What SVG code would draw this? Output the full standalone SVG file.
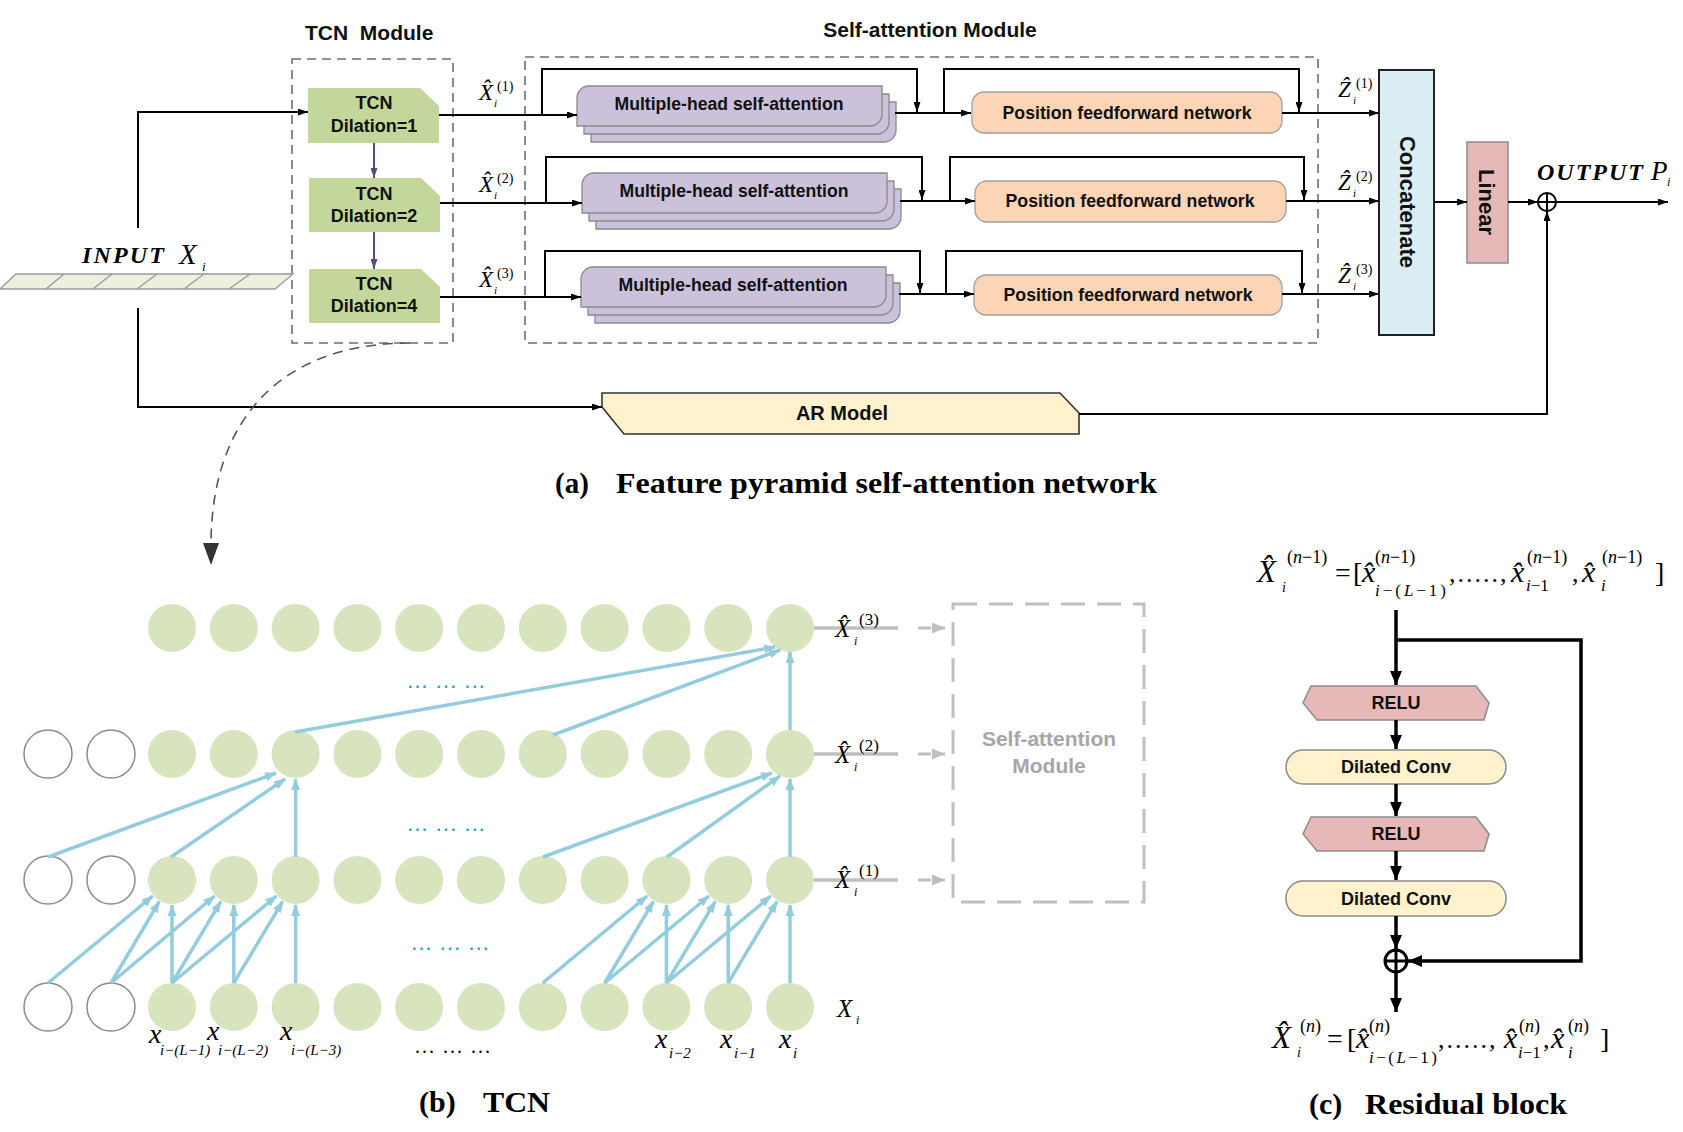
<svg xmlns="http://www.w3.org/2000/svg" width="1683" height="1132" viewBox="0 0 1683 1132">
<defs>
<style>
.sans{font-family:"Liberation Sans",Arial,sans-serif}
.ser{font-family:"Liberation Serif","Times New Roman",serif}
.b{font-weight:bold}
.it{font-style:italic}
.up{font-style:normal}
.ln{stroke:#000;stroke-width:2;fill:none;marker-end:url(#ak)}
.dash{stroke:#6e6e6e;stroke-width:1.6;fill:none;stroke-dasharray:9 6}
.tcn{fill:#c3d69b}
.mh{fill:#ccc1da;stroke:#8a8a8a;stroke-width:1.3}
.pf{fill:#fbd5b5;stroke:#a0a0a0;stroke-width:1.3}
.bl{stroke:#93cddd;stroke-width:3.5;fill:none;marker-end:url(#ab)}
.g{fill:#d7e4bd}
.e{fill:#fff;stroke:#8c8c8c;stroke-width:1.5}
.lbl{font-size:18px;fill:#111;text-anchor:middle}
.gl{stroke:#bfbfbf;stroke-width:3.5;fill:none}
.ga{stroke:#bfbfbf;stroke-width:3;fill:none;stroke-dasharray:13 6;marker-end:url(#ag)}
.rl{stroke:#000;stroke-width:3.5;fill:none;marker-end:url(#ar)}
.relu{fill:#e6b9b8;stroke:#8c8c8c;stroke-width:1.5}
.dc{fill:#fff2cc;stroke:#8c8c8c;stroke-width:1.5}
</style>
<marker id="ak" viewBox="0 0 10 7" refX="10" refY="3.5" markerWidth="10" markerHeight="7" markerUnits="userSpaceOnUse" orient="auto"><path d="M0,0 L10,3.5 L0,7 z" fill="#000"/></marker>
<marker id="ap" viewBox="0 0 10 7" refX="10" refY="3.5" markerWidth="10" markerHeight="7" markerUnits="userSpaceOnUse" orient="auto"><path d="M0,0 L10,3.5 L0,7 z" fill="#5f497a"/></marker>
<marker id="ab" viewBox="0 0 12 9" refX="11" refY="4.5" markerWidth="12" markerHeight="9" markerUnits="userSpaceOnUse" orient="auto"><path d="M0,0 L12,4.5 L0,9 z" fill="#93cddd"/></marker>
<marker id="ag" viewBox="0 0 13 11" refX="13" refY="5.5" markerWidth="13" markerHeight="11" markerUnits="userSpaceOnUse" orient="auto"><path d="M0,0 L13,5.5 L0,11 z" fill="#bfbfbf"/></marker>
<marker id="ar" viewBox="0 0 14 12" refX="14" refY="6" markerWidth="14" markerHeight="12" markerUnits="userSpaceOnUse" orient="auto"><path d="M0,0 L14,6 L0,12 z" fill="#000"/></marker>
<path id="mhs" d="M12,0 H305 V28 A12,12 0 0 1 293,40 H0 V12 A12,12 0 0 1 12,0 Z"/>
</defs>
<rect width="1683" height="1132" fill="#fff"/>

<!-- ===== (a) ===== -->
<text class="sans b" x="305" y="40" font-size="21" fill="#111">TCN&#160; Module</text>
<text class="sans b" x="930" y="37" font-size="21" fill="#111" text-anchor="middle">Self-attention Module</text>
<rect class="dash" x="292" y="59" width="161" height="284"/>
<rect class="dash" x="525" y="57" width="793" height="286"/>

<g id="input">
<polygon points="16,274 293,274 275,289 0,289" fill="#ebf1de" stroke="#9a9a9a" stroke-width="1.3"/>
<path d="M64,274 L46,289 M112,274 L93,289 M157,274 L137,289 M204,274 L184,289 M250,274 L229,289" stroke="#9a9a9a" stroke-width="1.3" fill="none"/>
<text class="ser b it" x="82" y="263" font-size="24" textLength="82">INPUT</text>
<text class="ser it" x="179" y="264" font-size="29">X<tspan x="202" y="271" font-size="13">i</tspan></text>
</g>

<g id="tcn1"><path class="tcn" d="M308,88 H420 L439,106 V143 H308 Z"/><text class="sans b lbl" x="374" y="109">TCN</text><text class="sans b lbl" x="374" y="132">Dilation=1</text></g>
<g id="tcn2"><path class="tcn" d="M309,178 H421 L440,196 V232 H309 Z"/><text class="sans b lbl" x="374" y="200">TCN</text><text class="sans b lbl" x="374" y="222">Dilation=2</text></g>
<g id="tcn4"><path class="tcn" d="M309,269 H421 L440,287 V323 H309 Z"/><text class="sans b lbl" x="374" y="290">TCN</text><text class="sans b lbl" x="374" y="312">Dilation=4</text></g>

<g id="mhsa1" transform="translate(577,86)"><use href="#mhs" x="14" y="16" class="mh"/><use href="#mhs" x="7" y="8" class="mh"/><use href="#mhs" class="mh"/><text class="sans b lbl" x="152" y="24" textLength="229" lengthAdjust="spacingAndGlyphs">Multiple-head self-attention</text></g>
<g id="mhsa2" transform="translate(582,173)"><use href="#mhs" x="14" y="16" class="mh"/><use href="#mhs" x="7" y="8" class="mh"/><use href="#mhs" class="mh"/><text class="sans b lbl" x="152" y="24" textLength="229" lengthAdjust="spacingAndGlyphs">Multiple-head self-attention</text></g>
<g id="mhsa3" transform="translate(581,267)"><use href="#mhs" x="14" y="16" class="mh"/><use href="#mhs" x="7" y="8" class="mh"/><use href="#mhs" class="mh"/><text class="sans b lbl" x="152" y="24" textLength="229" lengthAdjust="spacingAndGlyphs">Multiple-head self-attention</text></g>

<g id="pfn1"><rect class="pf" x="972" y="92" width="310" height="41" rx="12"/><text class="sans b lbl" x="1127" y="119" textLength="249" lengthAdjust="spacingAndGlyphs">Position feedforward network</text></g>
<g id="pfn2"><rect class="pf" x="975" y="181" width="311" height="41" rx="12"/><text class="sans b lbl" x="1130" y="207" textLength="249" lengthAdjust="spacingAndGlyphs">Position feedforward network</text></g>
<g id="pfn3"><rect class="pf" x="974" y="275" width="308" height="40" rx="12"/><text class="sans b lbl" x="1128" y="301" textLength="249" lengthAdjust="spacingAndGlyphs">Position feedforward network</text></g>

<g id="concat"><rect x="1379" y="70" width="55" height="265" fill="#daeef3" stroke="#222" stroke-width="2"/><text class="sans b" x="1408" y="202" dy="8" font-size="22" text-anchor="middle" fill="#111" transform="rotate(90 1408 202)">Concatenate</text></g>
<g id="linear"><rect x="1467" y="142" width="41" height="121" fill="#e6b9b8" stroke="#8c8c8c" stroke-width="1.5"/><text class="sans b" x="1487" y="202" dy="8" font-size="22" text-anchor="middle" fill="#111" transform="rotate(90 1487 202)">Linear</text></g>
<g id="ar"><path d="M602,393 H1060 L1079,413 V434 H624 L602,407 Z" fill="#fff2cc" stroke="#333" stroke-width="1.6"/><text class="sans b" x="842" y="420" font-size="20" text-anchor="middle" fill="#111">AR Model</text></g>
<g id="plus1"><circle cx="1547" cy="202" r="9" fill="#fff" stroke="#000" stroke-width="2"/><path d="M1538,202 H1556 M1547,193 V211" stroke="#000" stroke-width="2"/></g>

<g id="output"><text class="ser b it" x="1537" y="180" font-size="24" textLength="106">OUTPUT</text><text class="ser it" x="1651" y="180" font-size="27">P<tspan x="1667" y="186" font-size="12">i</tspan></text></g>

<!-- X-hat / Z-hat labels (a) -->
<g class="ser">
<text x="479" y="100" font-size="23"><tspan class="it">X̂</tspan><tspan x="497" y="91" font-size="14">(1)</tspan><tspan class="it" x="494" y="107" font-size="11">i</tspan></text>
<text x="479" y="192" font-size="23"><tspan class="it">X̂</tspan><tspan x="497" y="183" font-size="14">(2)</tspan><tspan class="it" x="494" y="199" font-size="11">i</tspan></text>
<text x="479" y="287" font-size="23"><tspan class="it">X̂</tspan><tspan x="497" y="278" font-size="14">(3)</tspan><tspan class="it" x="494" y="294" font-size="11">i</tspan></text>
<text x="1338" y="97" font-size="23"><tspan class="it">Ẑ</tspan><tspan x="1356" y="88" font-size="14">(1)</tspan><tspan class="it" x="1353" y="104" font-size="11">i</tspan></text>
<text x="1338" y="190" font-size="23"><tspan class="it">Ẑ</tspan><tspan x="1356" y="181" font-size="14">(2)</tspan><tspan class="it" x="1353" y="197" font-size="11">i</tspan></text>
<text x="1338" y="283" font-size="23"><tspan class="it">Ẑ</tspan><tspan x="1356" y="274" font-size="14">(3)</tspan><tspan class="it" x="1353" y="290" font-size="11">i</tspan></text>
</g>

<g id="connectors-a">
<path class="ln" d="M138,228 V112 H308"/>
<path class="ln" d="M138,308 V407 H602"/>
<path d="M374,143 V178" stroke="#5f497a" stroke-width="2" fill="none" marker-end="url(#ap)"/>
<path d="M374,232 V269" stroke="#5f497a" stroke-width="2" fill="none" marker-end="url(#ap)"/>
<path class="ln" d="M439,115 H577"/>
<path class="ln" d="M542,115 V69 H917 V112"/>
<path class="ln" d="M895,113 H971"/>
<path class="ln" d="M944,113 V69 H1299 V112"/>
<path class="ln" d="M1282,113 H1379"/>
<path class="ln" d="M440,203 H582"/>
<path class="ln" d="M546,203 V157 H922 V200"/>
<path class="ln" d="M900,201 H975"/>
<path class="ln" d="M950,201 V157 H1304 V200"/>
<path class="ln" d="M1286,201 H1379"/>
<path class="ln" d="M440,297 H581"/>
<path class="ln" d="M545,297 V251 H920 V293"/>
<path class="ln" d="M899,294 H974"/>
<path class="ln" d="M946,294 V251 H1302 V293"/>
<path class="ln" d="M1282,294 H1379"/>
<path class="ln" d="M1434,202 H1467"/>
<path class="ln" d="M1508,202 H1538"/>
<path class="ln" d="M1556,202 H1668"/>
<path class="ln" d="M1079,414 H1547 V211"/>
<path d="M410,343 C290,343 212,410 211,543" stroke="#555" stroke-width="1.6" fill="none" stroke-dasharray="10 7"/>
<path d="M203,543 L219,543 L211,565 Z" fill="#333"/>
</g>

<text class="ser b" x="555" y="493" font-size="29">(a)</text>
<text class="ser b" x="616" y="493" font-size="29" textLength="541" lengthAdjust="spacingAndGlyphs">Feature pyramid self-attention network</text>

<!-- ===== (b) TCN ===== -->
<g id="tcn-nodes">
<g id="row4"><circle class="g" cx="172" cy="628" r="24"/><circle class="g" cx="233.8" cy="628" r="24"/><circle class="g" cx="295.6" cy="628" r="24"/><circle class="g" cx="357.4" cy="628" r="24"/><circle class="g" cx="419.2" cy="628" r="24"/><circle class="g" cx="481" cy="628" r="24"/><circle class="g" cx="542.8" cy="628" r="24"/><circle class="g" cx="604.6" cy="628" r="24"/><circle class="g" cx="666.4" cy="628" r="24"/><circle class="g" cx="728.2" cy="628" r="24"/><circle class="g" cx="790" cy="628" r="24"/></g>
<g id="row3"><circle class="e" cx="48" cy="754" r="24"/><circle class="e" cx="111" cy="754" r="24"/><circle class="g" cx="172" cy="754" r="24"/><circle class="g" cx="233.8" cy="754" r="24"/><circle class="g" cx="295.6" cy="754" r="24"/><circle class="g" cx="357.4" cy="754" r="24"/><circle class="g" cx="419.2" cy="754" r="24"/><circle class="g" cx="481" cy="754" r="24"/><circle class="g" cx="542.8" cy="754" r="24"/><circle class="g" cx="604.6" cy="754" r="24"/><circle class="g" cx="666.4" cy="754" r="24"/><circle class="g" cx="728.2" cy="754" r="24"/><circle class="g" cx="790" cy="754" r="24"/></g>
<g id="row2"><circle class="e" cx="48" cy="880" r="24"/><circle class="e" cx="111" cy="880" r="24"/><circle class="g" cx="172" cy="880" r="24"/><circle class="g" cx="233.8" cy="880" r="24"/><circle class="g" cx="295.6" cy="880" r="24"/><circle class="g" cx="357.4" cy="880" r="24"/><circle class="g" cx="419.2" cy="880" r="24"/><circle class="g" cx="481" cy="880" r="24"/><circle class="g" cx="542.8" cy="880" r="24"/><circle class="g" cx="604.6" cy="880" r="24"/><circle class="g" cx="666.4" cy="880" r="24"/><circle class="g" cx="728.2" cy="880" r="24"/><circle class="g" cx="790" cy="880" r="24"/></g>
<g id="row1"><circle class="e" cx="48" cy="1007" r="24"/><circle class="e" cx="111" cy="1007" r="24"/><circle class="g" cx="172" cy="1007" r="24"/><circle class="g" cx="233.8" cy="1007" r="24"/><circle class="g" cx="295.6" cy="1007" r="24"/><circle class="g" cx="357.4" cy="1007" r="24"/><circle class="g" cx="419.2" cy="1007" r="24"/><circle class="g" cx="481" cy="1007" r="24"/><circle class="g" cx="542.8" cy="1007" r="24"/><circle class="g" cx="604.6" cy="1007" r="24"/><circle class="g" cx="666.4" cy="1007" r="24"/><circle class="g" cx="728.2" cy="1007" r="24"/><circle class="g" cx="790" cy="1007" r="24"/></g>
</g>

<g id="connectors-b">
<line class="bl" x1="48" y1="983" x2="152.8" y2="896"/>
<line class="bl" x1="111" y1="983" x2="159.3" y2="901.5"/>
<line class="bl" x1="172" y1="983" x2="172" y2="905"/>
<line class="bl" x1="111" y1="983" x2="214.6" y2="896"/>
<line class="bl" x1="172" y1="983" x2="220.9" y2="901.4"/>
<line class="bl" x1="233.8" y1="983" x2="233.8" y2="905"/>
<line class="bl" x1="172" y1="983" x2="276.4" y2="896"/>
<line class="bl" x1="233.8" y1="983" x2="282.7" y2="901.4"/>
<line class="bl" x1="295.6" y1="983" x2="295.6" y2="905"/>
<line class="bl" x1="542.8" y1="983" x2="647.2" y2="896"/>
<line class="bl" x1="604.6" y1="983" x2="653.5" y2="901.4"/>
<line class="bl" x1="666.4" y1="983" x2="666.4" y2="905"/>
<line class="bl" x1="604.6" y1="983" x2="709" y2="896"/>
<line class="bl" x1="666.4" y1="983" x2="715.3" y2="901.4"/>
<line class="bl" x1="728.2" y1="983" x2="728.2" y2="905"/>
<line class="bl" x1="666.4" y1="983" x2="770.8" y2="896"/>
<line class="bl" x1="728.2" y1="983" x2="777.1" y2="901.4"/>
<line class="bl" x1="790" y1="983" x2="790" y2="905"/>
<line class="bl" x1="48" y1="857" x2="276" y2="773"/>
<line class="bl" x1="171" y1="857" x2="285" y2="779"/>
<line class="bl" x1="295.6" y1="857" x2="295.6" y2="779"/>
<line class="bl" x1="543" y1="857" x2="772" y2="773"/>
<line class="bl" x1="667" y1="857" x2="780" y2="776"/>
<line class="bl" x1="790" y1="857" x2="790" y2="779"/>
<line class="bl" x1="295" y1="732" x2="775" y2="647"/>
<line class="bl" x1="553" y1="735" x2="780" y2="650"/>
<line class="bl" x1="790" y1="730" x2="790" y2="652"/>
<path class="gl" d="M814,628 H898 M814,754 H898 M814,880 H898"/>
<path class="ga" d="M918,628 H945"/>
<path class="ga" d="M918,754 H945"/>
<path class="ga" d="M918,880 H945"/>
</g>

<g fill="#31a0c8" class="sans b" font-size="16">
<text x="408" y="688" textLength="76">... ... ...</text>
<text x="408" y="831" textLength="76">... ... ...</text>
<text x="412" y="950" textLength="76">... ... ...</text>
</g>

<g id="sa-module-b"><rect x="953" y="604" width="191" height="298" fill="none" stroke="#bfbfbf" stroke-width="3" stroke-dasharray="24 12"/>
<text class="sans b" x="1049" y="746" font-size="21" fill="#a6a6a6" text-anchor="middle">Self-attention</text>
<text class="sans b" x="1049" y="773" font-size="21" fill="#a6a6a6" text-anchor="middle">Module</text></g>

<g class="ser">
<text x="835" y="637" font-size="25"><tspan class="it">X̂</tspan><tspan x="859" y="625" font-size="17">(3)</tspan><tspan class="it" x="854" y="645" font-size="12">i</tspan></text>
<text x="835" y="763" font-size="25"><tspan class="it">X̂</tspan><tspan x="859" y="751" font-size="17">(2)</tspan><tspan class="it" x="854" y="771" font-size="12">i</tspan></text>
<text x="835" y="888" font-size="25"><tspan class="it">X̂</tspan><tspan x="859" y="876" font-size="17">(1)</tspan><tspan class="it" x="854" y="896" font-size="12">i</tspan></text>
<text class="it" x="837" y="1017" font-size="25">X<tspan x="856" y="1024" font-size="12">i</tspan></text>
</g>

<g class="ser it">
<text x="149" y="1043" font-size="28">x<tspan x="160" y="1055" font-size="15">i−(L−1)</tspan></text>
<text x="207" y="1040" font-size="28">x<tspan x="218" y="1055" font-size="15">i−(L−2)</tspan></text>
<text x="280" y="1040" font-size="28">x<tspan x="291" y="1055" font-size="15">i−(L−3)</tspan></text>
<text class="up" x="415" y="1053" font-size="20" textLength="75">... ... ...</text>
<text x="655" y="1048" font-size="28">x<tspan x="669" y="1058" font-size="15">i−2</tspan></text>
<text x="720" y="1048" font-size="28">x<tspan x="734" y="1058" font-size="15">i−1</tspan></text>
<text x="779" y="1048" font-size="28">x<tspan x="793" y="1058" font-size="15">i</tspan></text>
</g>

<text class="ser b" x="419" y="1112" font-size="30">(b)</text>
<text class="ser b" x="483" y="1112" font-size="30" textLength="67" lengthAdjust="spacingAndGlyphs">TCN</text>

<!-- ===== (c) Residual block ===== -->
<g class="ser">
<text x="1257" y="582" font-size="31"><tspan class="it">X̂</tspan><tspan x="1287" y="563" font-size="18">(<tspan class="it">n</tspan>−1)</tspan><tspan class="it" x="1282" y="592" font-size="14">i</tspan><tspan x="1335" y="582" font-size="28">=</tspan><tspan x="1353" y="582" font-size="28">[</tspan><tspan class="it" x="1362" y="582" font-size="30">x̂</tspan><tspan x="1375" y="563" font-size="18">(<tspan class="it">n</tspan>−1)</tspan><tspan x="1375" y="596" font-size="17" textLength="71"><tspan class="it">i</tspan>−(<tspan class="it">L</tspan>−1)</tspan><tspan x="1449" y="582" font-size="26" letter-spacing="2">,.....,</tspan><tspan class="it" x="1511" y="582" font-size="30">x̂</tspan><tspan x="1527" y="563" font-size="18">(<tspan class="it">n</tspan>−1)</tspan><tspan x="1526" y="591" font-size="17"><tspan class="it">i</tspan>−1</tspan><tspan x="1572" y="582" font-size="26">,</tspan><tspan class="it" x="1582" y="582" font-size="30">x̂</tspan><tspan x="1602" y="563" font-size="18">(<tspan class="it">n</tspan>−1)</tspan><tspan class="it" x="1601" y="591" font-size="17">i</tspan><tspan x="1655" y="582" font-size="28">]</tspan></text>
<text x="1272" y="1048" font-size="31"><tspan class="it">X̂</tspan><tspan x="1300" y="1032" font-size="18">(<tspan class="it">n</tspan>)</tspan><tspan class="it" x="1297" y="1057" font-size="14">i</tspan><tspan x="1327" y="1048" font-size="28">=</tspan><tspan x="1347" y="1048" font-size="28">[</tspan><tspan class="it" x="1356" y="1048" font-size="30">x̂</tspan><tspan x="1369" y="1032" font-size="18">(<tspan class="it">n</tspan>)</tspan><tspan x="1369" y="1063" font-size="17" textLength="68"><tspan class="it">i</tspan>−(<tspan class="it">L</tspan>−1)</tspan><tspan x="1438" y="1048" font-size="26" letter-spacing="2">,.....,</tspan><tspan class="it" x="1504" y="1048" font-size="30">x̂</tspan><tspan x="1519" y="1032" font-size="18">(<tspan class="it">n</tspan>)</tspan><tspan x="1518" y="1058" font-size="17"><tspan class="it">i</tspan>−1</tspan><tspan x="1543" y="1048" font-size="26">,</tspan><tspan class="it" x="1551" y="1048" font-size="30">x̂</tspan><tspan x="1568" y="1032" font-size="18">(<tspan class="it">n</tspan>)</tspan><tspan class="it" x="1568" y="1058" font-size="17">i</tspan><tspan x="1600" y="1048" font-size="28">]</tspan></text>
</g>

<g id="relu1"><polygon class="relu" points="1311,686 1476,686 1489,703 1484,720 1317,720 1303,703"/><text class="sans b" x="1396" y="709" font-size="18" text-anchor="middle" fill="#111">RELU</text></g>
<g id="dconv1"><rect class="dc" x="1286" y="750" width="220" height="34" rx="17"/><text class="sans b" x="1396" y="773" font-size="18" text-anchor="middle" fill="#111">Dilated Conv</text></g>
<g id="relu2"><polygon class="relu" points="1311,817 1476,817 1489,834 1484,851 1317,851 1303,834"/><text class="sans b" x="1396" y="840" font-size="18" text-anchor="middle" fill="#111">RELU</text></g>
<g id="dconv2"><rect class="dc" x="1286" y="881" width="220" height="35" rx="17"/><text class="sans b" x="1396" y="905" font-size="18" text-anchor="middle" fill="#111">Dilated Conv</text></g>
<g id="plus2"><circle cx="1396" cy="961" r="11" fill="#fff" stroke="#000" stroke-width="3"/><path d="M1385,961 H1407 M1396,950 V972" stroke="#000" stroke-width="3"/></g>

<g id="connectors-c">
<path class="rl" d="M1396,610 V685"/>
<path class="rl" d="M1396,640 H1581 V961 H1408"/>
<path class="rl" d="M1396,720 V749"/>
<path class="rl" d="M1396,784 V816"/>
<path class="rl" d="M1396,851 V880"/>
<path class="rl" d="M1396,916 V949"/>
<path class="rl" d="M1396,972 V1012"/>
</g>

<text class="ser b" x="1309" y="1114" font-size="30">(c)</text>
<text class="ser b" x="1365" y="1114" font-size="30" textLength="202" lengthAdjust="spacingAndGlyphs">Residual block</text>
</svg>
